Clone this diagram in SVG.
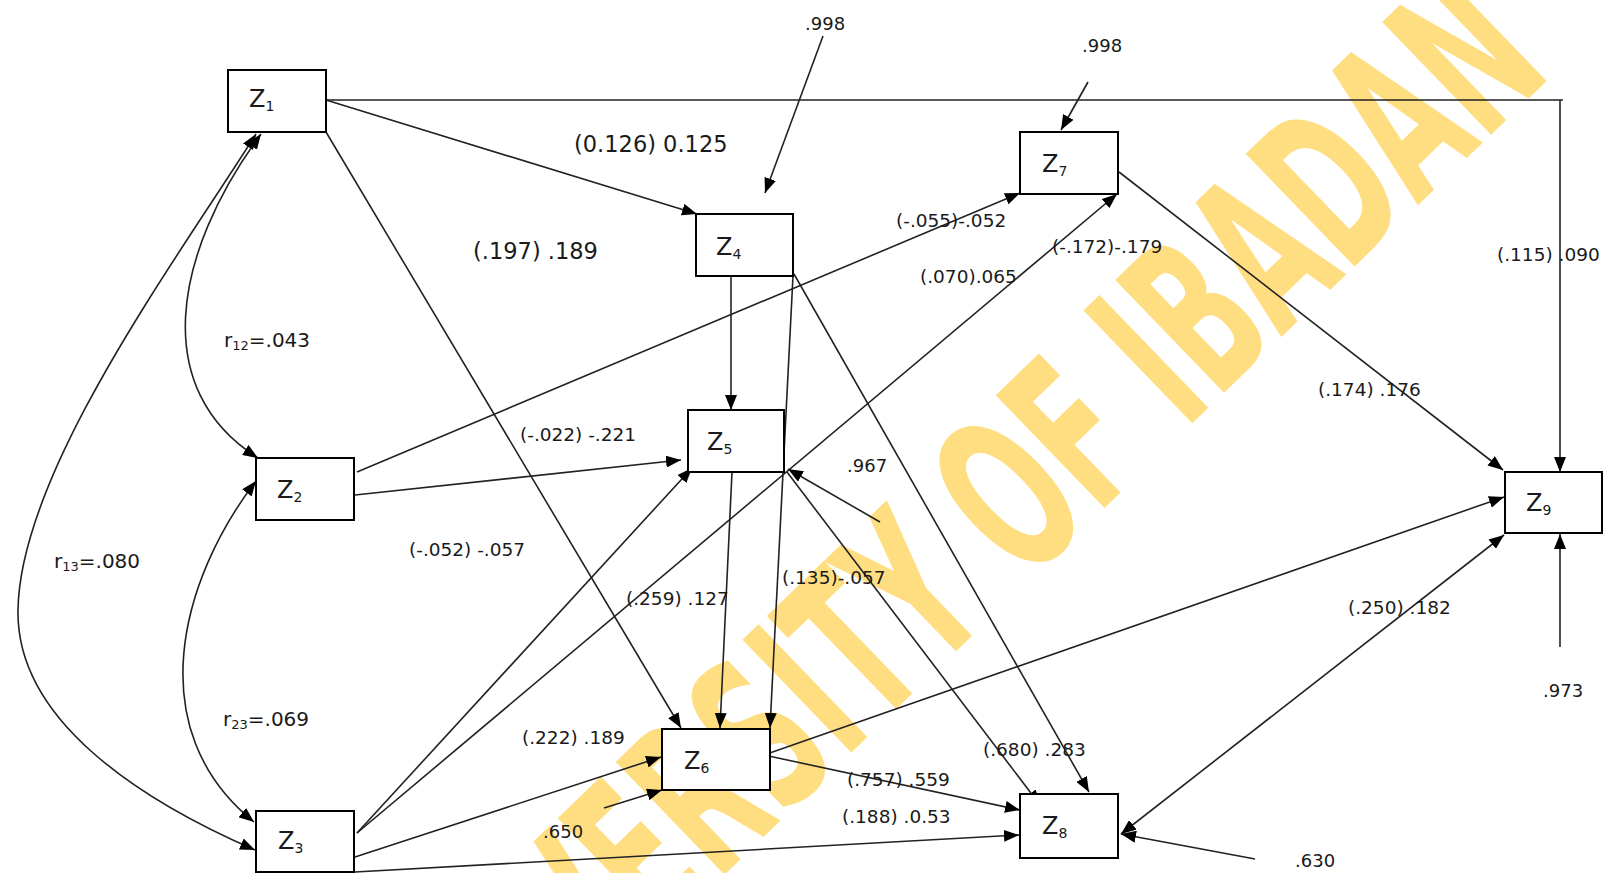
<svg xmlns="http://www.w3.org/2000/svg" width="1603" height="873" viewBox="0 0 1603 873">
<style>
.box{fill:#fff;stroke:#000;stroke-width:2}
.ln{fill:none;stroke:#222;stroke-width:1.6}
.a{marker-end:url(#ah)}
.d{marker-start:url(#ah);marker-end:url(#ah)}
text{font-family:"DejaVu Sans","Liberation Sans",sans-serif;fill:#1a1a1a}
.big{font-size:22.5px}
.lbl{font-size:18.5px}
.sm{font-size:18px}
.r{font-size:20px}
.z{font-size:24px}
.wm{font-family:"DejaVu Sans","Liberation Sans",sans-serif;font-weight:bold;fill:#FFDE82}
</style>
<defs>
<marker id="ah" viewBox="0 0 15 12" refX="15" refY="6" markerWidth="15" markerHeight="12" markerUnits="userSpaceOnUse" orient="auto-start-reverse">
<path d="M0,0 L15,6 L0,12 z" fill="#000"/>
</marker>
</defs>
<rect width="1603" height="873" fill="#fff"/>
<text class="wm" font-size="215" transform="translate(421,1168) rotate(-44) scale(0.55,1)">UNIVERSITY OF IBADAN</text>
<g id="connectors">
<path class="ln a" d="M326,100 H1563 M1560,100 V472"/>
<path class="ln a" d="M326,100 L697,214"/>
<path class="ln a" d="M326,132 L681,728"/>
<path class="ln a" d="M731,276 V410"/>
<path class="ln a" d="M793,276 L770,728"/>
<path class="ln a" d="M794,274 L1089,792"/>
<path class="ln a" d="M732,472 L720,728"/>
<path class="ln a" d="M787,472 L1040,805"/>
<path class="ln a" d="M880,522 L788,469"/>
<path class="ln a" d="M355,495 L681,460"/>
<path class="ln a" d="M357,472 L1020,193"/>
<path class="ln a" d="M357,833 L692,468"/>
<path class="ln a" d="M357,833 L1117,194"/>
<path class="ln a" d="M355,857 L661,757"/>
<path class="ln a" d="M355,872 L1019,835"/>
<path class="ln a" d="M604,808 L662,790"/>
<path class="ln a" d="M764,755 L1504,497"/>
<path class="ln a" d="M764,755 L1020,810"/>
<path class="ln a" d="M1119,172 L1503,470"/>
<path class="ln d" d="M1121,834 L1504,535"/>
<path class="ln a" d="M1255,859 L1121,834"/>
<path class="ln a" d="M1560,647 V534"/>
<path class="ln a" d="M823,36 L765,193"/>
<path class="ln a" d="M1088,82 L1061,130"/>
<path class="ln d" d="M261,134 C172,255 150,390 258,458"/>
<path class="ln d" d="M256,134 C180,255 20,470 18,610 C16,720 140,800 255,850"/>
<path class="ln d" d="M256,481 C180,580 140,730 254,822"/>
</g>
<g id="Z1"><rect class="box" x="228" y="70" width="98" height="62"/><text class="z" x="249" y="107">Z<tspan font-size="14" dy="4">1</tspan></text></g>
<g id="Z2"><rect class="box" x="256" y="458" width="98" height="62"/><text class="z" x="277" y="498">Z<tspan font-size="14" dy="4">2</tspan></text></g>
<g id="Z3"><rect class="box" x="256" y="811" width="98" height="61"/><text class="z" x="278" y="849">Z<tspan font-size="14" dy="4">3</tspan></text></g>
<g id="Z4"><rect class="box" x="696" y="214" width="97" height="62"/><text class="z" x="716" y="255">Z<tspan font-size="14" dy="4">4</tspan></text></g>
<g id="Z5"><rect class="box" x="688" y="410" width="96" height="62"/><text class="z" x="707" y="450">Z<tspan font-size="14" dy="4">5</tspan></text></g>
<g id="Z6"><rect class="box" x="662" y="729" width="108" height="61"/><text class="z" x="684" y="769">Z<tspan font-size="14" dy="4">6</tspan></text></g>
<g id="Z7"><rect class="box" x="1020" y="132" width="98" height="62"/><text class="z" x="1042" y="172">Z<tspan font-size="14" dy="4">7</tspan></text></g>
<g id="Z8"><rect class="box" x="1020" y="794" width="98" height="64"/><text class="z" x="1042" y="834">Z<tspan font-size="14" dy="4">8</tspan></text></g>
<g id="Z9"><rect class="box" x="1505" y="472" width="97" height="61"/><text class="z" x="1526" y="511">Z<tspan font-size="14" dy="4">9</tspan></text></g>
<g id="labels">
<text class="big" x="574" y="152">(0.126) 0.125</text>
<text class="big" x="473" y="259">(.197) .189</text>
<text class="lbl" x="896" y="227">(-.055)-.052</text>
<text class="lbl" x="1052" y="253">(-.172)-.179</text>
<text class="lbl" x="920" y="283">(.070).065</text>
<text class="lbl" x="1497" y="261">(.115) .090</text>
<text class="lbl" x="1318" y="396">(.174) .176</text>
<text class="lbl" x="520" y="441">(-.022) -.221</text>
<text class="lbl" x="409" y="556">(-.052) -.057</text>
<text class="lbl" x="626" y="605">(.259) .127</text>
<text class="lbl" x="782" y="584">(.135)-.057</text>
<text class="lbl" x="522" y="744">(.222) .189</text>
<text class="lbl" x="847" y="786">(.757) .559</text>
<text class="lbl" x="842" y="823">(.188) .0.53</text>
<text class="lbl" x="983" y="756">(.680) .283</text>
<text class="lbl" x="1348" y="614">(.250) .182</text>
<text class="sm" x="805" y="30">.998</text>
<text class="sm" x="1082" y="52">.998</text>
<text class="sm" x="847" y="472">.967</text>
<text class="sm" x="543" y="838">.650</text>
<text class="sm" x="1295" y="867">.630</text>
<text class="sm" x="1543" y="697">.973</text>
<text class="r" x="224" y="347">r<tspan font-size="13" dy="3">12</tspan><tspan dy="-3">=.043</tspan></text>
<text class="r" x="54" y="568">r<tspan font-size="13" dy="3">13</tspan><tspan dy="-3">=.080</tspan></text>
<text class="r" x="223" y="726">r<tspan font-size="13" dy="3">23</tspan><tspan dy="-3">=.069</tspan></text>
</g>
</svg>
